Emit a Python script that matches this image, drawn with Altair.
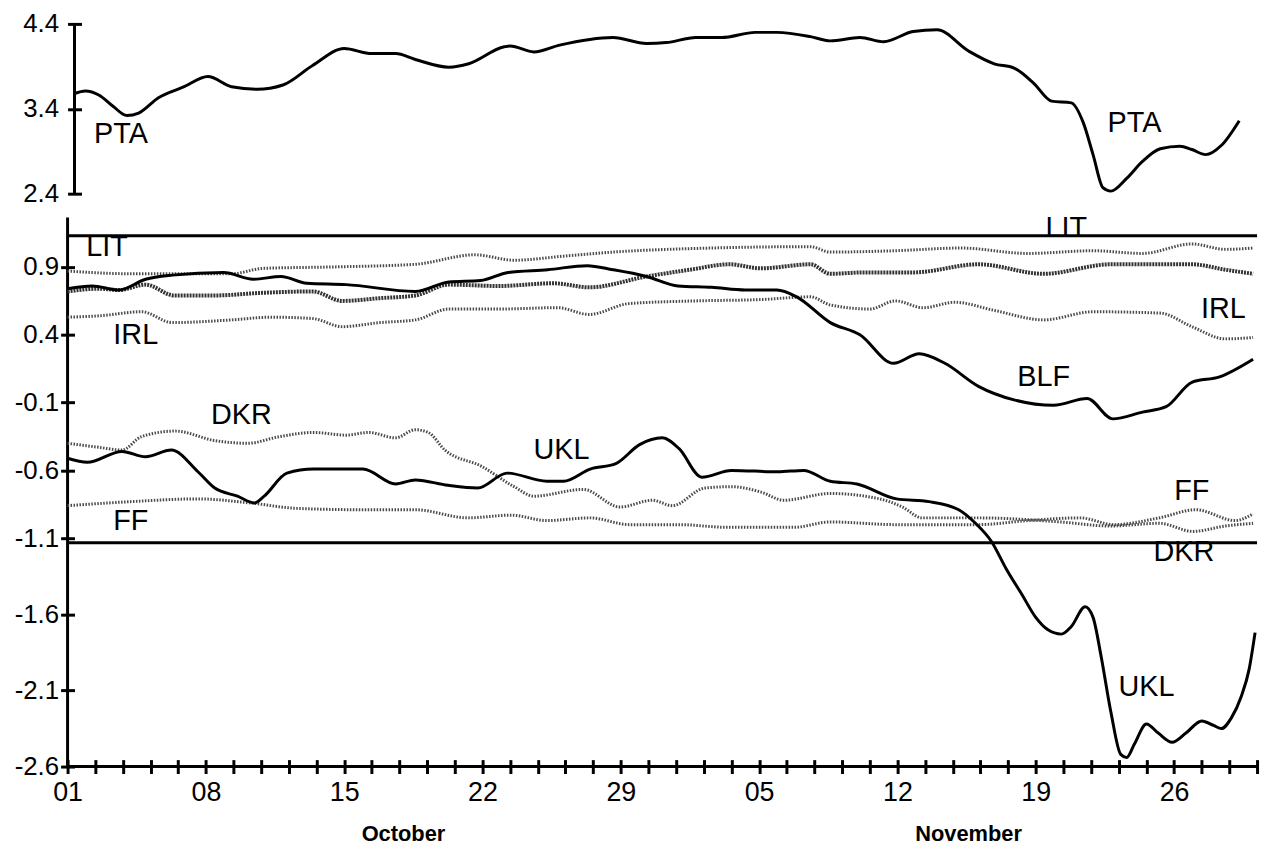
import altair as alt
import pandas as pd

# x = day index: 0 = 01 October, 60 = 30 November
pta_day = [0.35, 0.9, 1.6, 2.3, 3.0, 3.6, 4.6, 5.9, 7.1, 8.3, 9.6, 10.9, 12.4, 14.0, 15.4, 16.6, 17.6, 19.3, 20.3, 22.1,
           22.4, 23.6, 24.9, 27.6, 29.3, 30.3, 31.8, 33.1, 34.8, 35.9, 37.6, 38.6, 40.1, 41.3, 42.8, 44.0, 45.6, 46.9,
           47.9, 48.9, 49.8, 50.8, 51.4, 51.9, 52.4, 52.8, 53.6, 54.4, 55.3, 56.3, 56.9, 57.6, 58.4, 59.3]
pta_val = [3.58, 3.61, 3.56, 3.43, 3.32, 3.35, 3.53, 3.66, 3.78, 3.66, 3.63, 3.68, 3.91, 4.11, 4.05, 4.05, 3.98, 3.89,
           3.93, 4.13, 4.14, 4.07, 4.15, 4.24, 4.17, 4.18, 4.24, 4.24, 4.30, 4.30, 4.25, 4.20, 4.24, 4.19, 4.31, 4.33,
           4.08, 3.93, 3.88, 3.70, 3.49, 3.47, 3.24, 2.86, 2.47, 2.43, 2.58, 2.78, 2.93, 2.96, 2.92, 2.86, 2.97, 3.26]

blf_day = [0, 1.25, 2.6, 3.95, 5.3, 7.9, 9.4, 10.8, 12.1, 14.1, 17.6, 19.3, 20.9, 22.3, 24.3, 26.3, 27.6, 29.3, 30.9,
           32.6, 34.3, 35.9, 36.9, 38.6, 40.1, 41.8, 43.1, 44.4, 46.1, 47.9, 49.9, 51.6, 52.9, 54.4, 55.6, 56.9, 58.3, 60]
blf_val = [0.74, 0.76, 0.73, 0.81, 0.84, 0.86, 0.81, 0.83, 0.78, 0.77, 0.72, 0.79, 0.80, 0.86, 0.88, 0.91, 0.88, 0.83,
           0.76, 0.75, 0.73, 0.73, 0.68, 0.49, 0.40, 0.19, 0.26, 0.19, 0.02, -0.08, -0.12, -0.07, -0.22, -0.17, -0.13,
           0.05, 0.09, 0.22]

ukl_day = [0, 1, 2.75, 3.95, 5.25, 6.6, 7.45, 8.6, 9.45, 9.95, 11.1, 12.45, 14.95, 16.6, 17.6, 19.25, 20.75, 22.25,
           24.25, 25.1, 26.45, 27.75, 28.95, 30.1, 30.95, 32.1, 33.6, 35.95, 37.25, 38.6, 39.95, 41.95, 43.6, 45.1,
           45.95, 46.75, 47.5, 48.3, 49.0, 49.6, 50.3, 50.8, 51.5, 51.9, 52.3, 52.8, 53.3, 53.6, 54.0, 54.6, 55.2, 55.9,
           56.6, 57.4, 58.0, 58.4, 58.9, 59.4, 59.8, 60.1]
ukl_val = [-0.51, -0.54, -0.46, -0.50, -0.45, -0.61, -0.73, -0.79, -0.84, -0.79, -0.62, -0.59, -0.59, -0.70, -0.67,
           -0.71, -0.73, -0.62, -0.68, -0.68, -0.59, -0.55, -0.41, -0.36, -0.44, -0.65, -0.60, -0.61, -0.60, -0.68,
           -0.70, -0.81, -0.83, -0.89, -0.99, -1.12, -1.30, -1.47, -1.62, -1.70, -1.73, -1.68, -1.55, -1.62, -1.87,
           -2.24, -2.52, -2.54, -2.45, -2.32, -2.38, -2.44, -2.38, -2.30, -2.33, -2.35, -2.28, -2.14, -1.96, -1.72]

lit_day = [0, 3.3, 8.3, 9.9, 13.3, 17.6, 20.6, 22.6, 25.1, 27.6, 32.6, 37.6, 38.6, 41.9, 45.2, 48.6, 51.9, 54.4,
           56.9, 58.6, 60]
lit_val = [0.87, 0.85, 0.85, 0.89, 0.90, 0.92, 0.99, 0.95, 0.98, 1.01, 1.04, 1.05, 1.01, 1.02, 1.04, 1.00, 1.02,
           1.00, 1.07, 1.03, 1.04]

irl_day = [0, 1.6, 3.75, 5.3, 8.3, 10.3, 12.4, 13.9, 15.8, 17.6, 19.3, 21.8, 24.8, 26.4, 28.4, 31.8, 35.1, 37.6,
           38.6, 40.6, 41.9, 43.3, 44.9, 46.9, 49.4, 51.9, 55.3, 56.9, 58.6, 60]
irl_val = [0.53, 0.54, 0.57, 0.49, 0.51, 0.53, 0.52, 0.46, 0.49, 0.51, 0.59, 0.59, 0.60, 0.55, 0.63, 0.65, 0.66,
           0.68, 0.62, 0.59, 0.65, 0.60, 0.64, 0.58, 0.51, 0.57, 0.56, 0.46, 0.37, 0.38]

dkr_day = [0, 1.6, 2.75, 3.75, 5.45, 7.45, 9.1, 10.75, 12.45, 14.1, 15.25, 16.6, 17.6, 18.25, 19.1, 20.95, 22.6,
           23.6, 26.1, 27.95, 29.6, 30.6, 32.25, 33.6, 35.1, 36.25, 38.6, 41.1, 42.25, 43.25, 46.1, 50.25, 52.75,
           55.25, 56.95, 58.6, 60]
dkr_val = [-0.40, -0.43, -0.45, -0.35, -0.31, -0.38, -0.40, -0.35, -0.32, -0.34, -0.32, -0.36, -0.30, -0.32, -0.45,
           -0.57, -0.72, -0.79, -0.74, -0.87, -0.82, -0.86, -0.73, -0.72, -0.76, -0.82, -0.77, -0.81, -0.87, -0.95,
           -0.95, -0.98, -1.01, -0.99, -1.05, -1.01, -0.99]

ff_day = [0, 3.25, 6.6, 9.25, 11.6, 14.95, 17.6, 20.25, 22.45, 24.25, 26.45, 28.45, 30.95, 33.45, 36.75, 38.6,
          41.95, 46.1, 48.6, 51.25, 52.95, 55.25, 57.1, 59.1, 60]
ff_val = [-0.86, -0.83, -0.81, -0.84, -0.88, -0.89, -0.89, -0.95, -0.93, -0.97, -0.95, -1.00, -1.00, -1.02, -1.02,
          -0.98, -1.00, -1.00, -0.97, -0.95, -1.00, -0.95, -0.89, -0.97, -0.92]

# unlabelled heavy dotted series
mid_day = [0, 1.6, 2.6, 3.95, 5.4, 7.4, 9.9, 12.4, 13.9, 15.8, 17.6, 19.3, 21.8, 24.6, 26.4, 29.3, 31.5, 33.5,
           35.1, 37.6, 38.6, 40.3, 42.8, 46.1, 49.4, 52.8, 56.9, 58.6, 60]
mid_val = [0.72, 0.74, 0.73, 0.77, 0.69, 0.69, 0.71, 0.72, 0.65, 0.67, 0.69, 0.77, 0.76, 0.78, 0.75, 0.83, 0.88,
           0.92, 0.89, 0.92, 0.85, 0.86, 0.86, 0.92, 0.85, 0.92, 0.92, 0.88, 0.85]

ref_vals = [1.13, -1.13]

top_lbl_text = ["PTA", "PTA"]
top_lbl_day = [2.7, 54.0]
top_lbl_val = [3.10, 3.23]

bot_lbl_text = ["LIT", "LIT", "IRL", "IRL", "BLF", "DKR", "UKL", "FF", "FF", "DKR", "UKL"]
bot_lbl_day = [2.0, 50.55, 3.45, 58.5, 49.4, 8.8, 25.0, 3.2, 56.9, 56.5, 54.6]
bot_lbl_val = [1.05, 1.185, 0.40, 0.59, 0.09, -0.19, -0.45, -0.97, -0.75, -1.19, -2.08]

month_names = ["October", "November"]
month_day = [17.0, 45.6]
month_val = [-3.04, -3.04]

top_ticks = [4.4, 3.4, 2.4]
top_axis_day = 0.35
bot_ticks = [0.9, 0.4, -0.1, -0.6, -1.1, -1.6, -2.1, -2.6]
day_labels = ["01", "08", "15", "22", "29", "05", "12", "19", "26"]
label_days = [0, 7, 14, 21, 28, 35, 42, 49, 56]
X_MAX = 60.2
BOT_TOP = 1.265
# the printed value axis of the lower panel is not evenly spaced below -1.1
BOT_BREAK = -1.1
BOT_H = 553
BOT_BREAK_PX = 323
TOP_H = 171

FONT = "Liberation Sans, Arial, Helvetica"
W = 1198


def frame(name, days, vals):
    return pd.DataFrame({"series": name, "day": days, "val": vals})


x_scale = alt.Scale(domain=[0, X_MAX], nice=False, zero=False)
top_scale = alt.Scale(domain=[min(top_ticks), max(top_ticks)], nice=False, zero=False)
bot_scale = alt.Scale(domain=[min(bot_ticks), BOT_BREAK, BOT_TOP], range=[BOT_H, BOT_BREAK_PX, 0],
                      nice=False, zero=False)

tick_vals = [round(i * 1.4, 1) for i in range(44)]
label_expr = " : ".join(f"datum.value == {d} ? '{l}'" for d, l in zip(label_days, day_labels)) + " : ''"
num_expr = "(datum.value < 0 ? '-' : '') + format(abs(datum.value), '.1f')"

yaxis_common = dict(domain=False, grid=False, tickSize=14, tickWidth=3, tickColor="black",
                    labelFont=FONT, labelFontSize=26, labelColor="black", title=None,
                    labelExpr=num_expr, labelFlush=False, labelOverlap=False)

# ---------- top panel ----------
pta_df = frame("PTA", pta_day, pta_val)
top_line = alt.Chart(pta_df).mark_line(color="black", strokeWidth=3, interpolate="monotone").encode(
    x=alt.X("day:Q", scale=x_scale, axis=None),
    y=alt.Y("val:Q", scale=top_scale,
            axis=alt.Axis(values=top_ticks, tickCount=len(top_ticks), offset=-14, labelPadding=9, **yaxis_common)),
)
top_axis_df = pd.DataFrame({"at": [top_axis_day], "lo": [min(top_ticks)], "hi": [max(top_ticks)]})
top_domain = alt.Chart(top_axis_df).mark_rule(color="black", strokeWidth=3).encode(
    x=alt.X("at:Q", scale=x_scale, axis=None),
    y=alt.Y("lo:Q", scale=top_scale, title=None),
    y2="hi:Q",
)
top_text = alt.Chart(pd.DataFrame({"label": top_lbl_text, "day": top_lbl_day, "val": top_lbl_val})).mark_text(
    font=FONT, fontSize=29, color="black", align="center", baseline="middle"
).encode(x=alt.X("day:Q", scale=x_scale, axis=None), y=alt.Y("val:Q", scale=top_scale, title=None), text="label:N")

top = alt.layer(top_domain, top_line, top_text).properties(width=W, height=TOP_H)

# ---------- bottom panel ----------
solid_df = pd.concat([frame("BLF", blf_day, blf_val), frame("UKL", ukl_day, ukl_val)])
dotted_df = pd.concat([frame("LIT", lit_day, lit_val), frame("IRL", irl_day, irl_val),
                       frame("DKR", dkr_day, dkr_val), frame("FF", ff_day, ff_val)])
mid_df = frame("mid", mid_day, mid_val)

xaxis = alt.Axis(values=tick_vals, tickCount=len(tick_vals), labelExpr=label_expr, domain=False, grid=False,
                 offset=-7, tickSize=14, tickWidth=3, tickColor="black", labelFont=FONT, labelFontSize=27,
                 labelColor="black", labelPadding=6, title=None, labelFlush=False, labelOverlap=False)

bot_axis_df = pd.DataFrame({"at": [0], "end": [X_MAX], "lo": [min(bot_ticks)], "hi": [BOT_TOP]})
bot_vdomain = alt.Chart(bot_axis_df).mark_rule(color="black", strokeWidth=3).encode(
    x=alt.X("at:Q", scale=x_scale, axis=xaxis),
    y=alt.Y("lo:Q", scale=bot_scale,
            axis=alt.Axis(values=bot_ticks, tickCount=len(bot_ticks), offset=-7, labelPadding=2, **yaxis_common)),
    y2="hi:Q",
)
bot_hdomain = alt.Chart(bot_axis_df).mark_rule(color="black", strokeWidth=3).encode(
    x=alt.X("at:Q", scale=x_scale, title=None),
    x2="end:Q",
    y=alt.Y("lo:Q", scale=bot_scale, title=None),
)
refs = alt.Chart(pd.DataFrame({"val": ref_vals})).mark_rule(color="black", strokeWidth=3).encode(
    y=alt.Y("val:Q", scale=bot_scale, title=None)
)
dotted = alt.Chart(dotted_df).mark_line(color="#4a4a4a", strokeWidth=3, strokeDash=[1.5, 1.5],
                                        interpolate="monotone").encode(
    x=alt.X("day:Q", scale=x_scale, title=None),
    y=alt.Y("val:Q", scale=bot_scale, title=None),
    detail="series:N",
)
mid = alt.Chart(mid_df).mark_line(color="#333333", strokeWidth=4, strokeDash=[2, 1],
                                  interpolate="monotone").encode(
    x=alt.X("day:Q", scale=x_scale, title=None),
    y=alt.Y("val:Q", scale=bot_scale, title=None),
)
solid = alt.Chart(solid_df).mark_line(color="black", strokeWidth=3, interpolate="monotone").encode(
    x=alt.X("day:Q", scale=x_scale, title=None),
    y=alt.Y("val:Q", scale=bot_scale, title=None),
    detail="series:N",
)
bot_text = alt.Chart(pd.DataFrame({"label": bot_lbl_text, "day": bot_lbl_day, "val": bot_lbl_val})).mark_text(
    font=FONT, fontSize=29, color="black", align="center", baseline="middle"
).encode(x=alt.X("day:Q", scale=x_scale, title=None), y=alt.Y("val:Q", scale=bot_scale, title=None),
         text="label:N")
month_text = alt.Chart(pd.DataFrame({"label": month_names, "day": month_day, "val": month_val})).mark_text(
    font="Liberation Sans Narrow, Liberation Sans, Arial", fontSize=22, fontWeight="bold", color="black",
    align="center", baseline="middle"
).encode(x=alt.X("day:Q", scale=x_scale, title=None), y=alt.Y("val:Q", scale=bot_scale, title=None),
         text="label:N")

bottom = alt.layer(bot_vdomain, bot_hdomain, refs, dotted, mid, solid, bot_text, month_text).properties(
    width=W, height=BOT_H)

chart = alt.vconcat(top, bottom, spacing=24, bounds="flush").properties(
    padding={"left": 6, "top": 0, "right": 2, "bottom": 0},
    background="white",
).configure_view(stroke=None)

chart.save("out.html", embed_options={"renderer": "svg", "actions": False})
